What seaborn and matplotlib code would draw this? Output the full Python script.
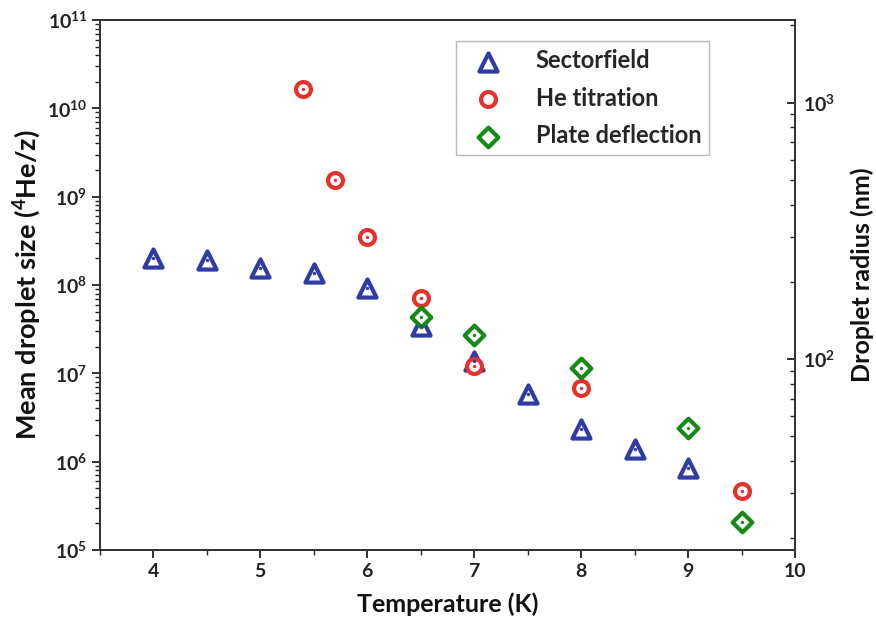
import matplotlib
matplotlib.use("Agg")
import matplotlib.pyplot as plt
import seaborn as sns
import numpy as np
import pandas as pd
from matplotlib.ticker import LogLocator, NullFormatter, MultipleLocator

sns.set_theme(style="white")
plt.rcParams['font.family'] = ['Lato', 'DejaVu Sans']
plt.rcParams['font.weight'] = 'bold'
plt.rcParams['mathtext.fontset'] = 'custom'
plt.rcParams['mathtext.rm'] = 'Lato:bold'
plt.rcParams['mathtext.bf'] = 'Lato:bold'
plt.rcParams['mathtext.it'] = 'Lato:bold:italic'

# Data
sector_T = [4.0, 4.5, 5.0, 5.5, 6.0, 6.5, 7.0, 7.5, 8.0, 8.5, 9.0]
sector_N = [2.0e8, 1.9e8, 1.55e8, 1.37e8, 9.2e7, 3.4e7, 1.38e7, 5.9e6, 2.35e6, 1.4e6, 8.5e5]
titr_T = [5.4, 5.7, 6.0, 6.5, 7.0, 8.0, 9.5]
titr_N = [1.66e10, 1.55e9, 3.5e8, 7.1e7, 1.2e7, 6.8e6, 4.7e5]
plate_T = [6.5, 7.0, 8.0, 9.0, 9.5]
plate_N = [4.3e7, 2.7e7, 1.15e7, 2.4e6, 2.1e5]

series_names = ["Sectorfield", "He titration", "Plate deflection"]
series_colors = ["#2f3ca6", "#e8302a", "#158a15"]
series_markers = ["^", "o", "D"]
series_sizes = [170, 115, 100]

fig = plt.figure(figsize=(8.76, 6.21), dpi=100)
ax = fig.add_axes([0.114, 0.1143, 0.7935, 0.8535])

data = [(sector_T, sector_N), (titr_T, titr_N), (plate_T, plate_N)]
for (T, N), name, col, mk, sz in zip(data, series_names, series_colors, series_markers, series_sizes):
    df = pd.DataFrame({"T": T, "N": N})
    sns.scatterplot(data=df, x="T", y="N", ax=ax, marker=mk, s=sz,
                    color=col, facecolor="white", edgecolor=col,
                    linewidth=3.0, label=name, zorder=3)
    sns.scatterplot(data=df, x="T", y="N", ax=ax, marker="o", s=6,
                    color=col, edgecolor=col, linewidth=0, zorder=4, legend=False)

ax.set_yscale("log")
ax.set_xlim(3.5, 10)
ax.set_ylim(1e5, 1e11)
ax.xaxis.set_minor_locator(MultipleLocator(0.5))
ax.set_xticks([4, 5, 6, 7, 8, 9, 10])
ax.set_xticklabels(["4", "5", "6", "7", "8", "9", "10"])
yt = [1e5, 1e6, 1e7, 1e8, 1e9, 1e10, 1e11]
ax.set_yticks(yt)
ax.set_yticklabels([r"$10^{%d}$" % int(np.log10(v)) for v in yt])
ax.yaxis.set_minor_locator(LogLocator(base=10, subs=np.arange(2, 10), numticks=20))
ax.yaxis.set_minor_formatter(NullFormatter())

ax.tick_params(axis="both", which="major", direction="out", length=6, width=1.3,
               labelsize=14, colors="#222222", left=True, bottom=True)
ax.tick_params(axis="both", which="minor", direction="out", length=3.5, width=1.0,
               left=True, bottom=True)
ax.tick_params(axis="y", which="major", pad=3)
ax.tick_params(axis="x", which="major", pad=3)
for lbl in ax.get_xticklabels() + ax.get_yticklabels():
    lbl.set_fontweight("bold")

ax.set_xlabel("Temperature (K)", fontsize=18, fontweight="bold", labelpad=9, color="#111111")
ax.set_ylabel(r"Mean droplet size ($^{4}$He/z)", fontsize=19.5, fontweight="bold", labelpad=3, color="#111111")

for sp in ax.spines.values():
    sp.set_linewidth(1.3)
    sp.set_color("#333333")

leg = ax.legend(loc="upper left", bbox_to_anchor=(0.513, 0.96), fontsize=17,
                frameon=True, fancybox=False, edgecolor="#aaaaaa",
                handletextpad=1.0, borderpad=0.35, labelspacing=0.6, borderaxespad=0,
                markerscale=1.0)
leg.get_frame().set_linewidth(1.0)
for t in leg.get_texts():
    t.set_fontweight("bold")

# Right axis: droplet radius
ax2 = ax.twinx()
ax2.set_yscale("log")
ax2.set_ylim(18, 2100)
ax2.set_yticks([100, 1000])
ax2.set_yticklabels([r"$10^{2}$", r"$10^{3}$"])
ax2.yaxis.set_minor_locator(LogLocator(base=10, subs=np.arange(2, 10), numticks=20))
ax2.yaxis.set_minor_formatter(NullFormatter())
ax2.tick_params(axis="y", which="major", direction="in", length=6, width=1.3,
                labelsize=14, right=True, colors="#222222", pad=6)
ax2.tick_params(axis="y", which="minor", direction="in", length=3.5, width=1.0, right=True)
for lbl in ax2.get_yticklabels():
    lbl.set_fontweight("bold")
ax2.set_ylabel("Droplet radius (nm)", fontsize=18, fontweight="bold", labelpad=12, color="#111111")
ax2.yaxis.set_label_coords(1.08, 0.52)
for sp in ax2.spines.values():
    sp.set_linewidth(1.3)
    sp.set_color("#333333")
ax2.grid(False)
ax.grid(False)

fig.savefig("out.png", dpi=100)
